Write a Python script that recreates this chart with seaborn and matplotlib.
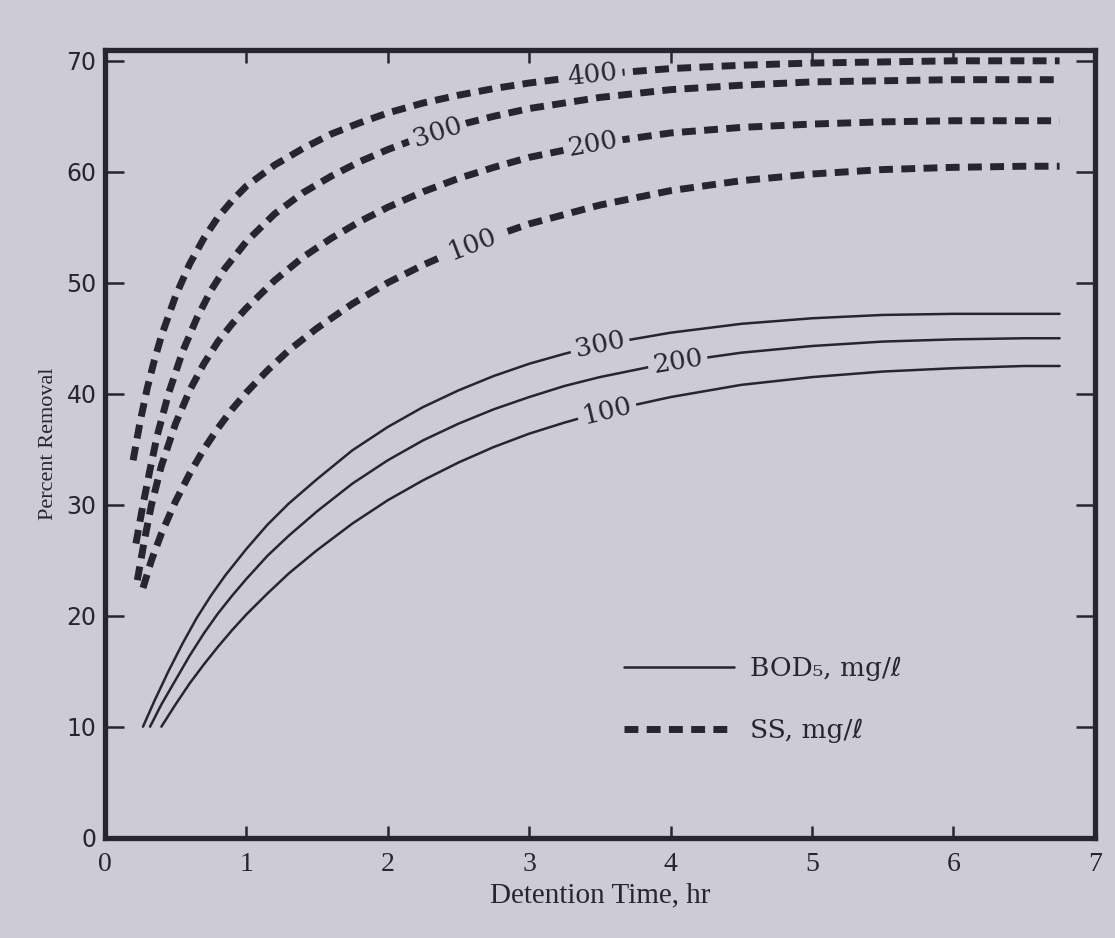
import numpy as np
import pandas as pd
import matplotlib
matplotlib.use("Agg")
import matplotlib.pyplot as plt
import seaborn as sns
from matplotlib.lines import Line2D

# ---- data ----
bod300_x = [0.27, 0.35, 0.45, 0.55, 0.65, 0.75, 0.85, 1.0, 1.15, 1.3, 1.5, 1.75, 2.0, 2.25,
            2.5, 2.75, 3.0, 3.25, 3.5, 4, 4.5, 5, 5.5, 6, 6.5, 6.75]
bod300_y = [10, 12.3, 15, 17.5, 19.8, 21.8, 23.6, 26, 28.2, 30.1, 32.3, 34.9, 37, 38.8,
            40.3, 41.6, 42.7, 43.6, 44.4, 45.5, 46.3, 46.8, 47.1, 47.2, 47.2, 47.2]
bod200_x = [0.32, 0.4, 0.5, 0.6, 0.7, 0.8, 0.9, 1.0, 1.15, 1.3, 1.5, 1.75, 2, 2.25,
            2.5, 2.75, 3, 3.25, 3.5, 4, 4.5, 5, 5.5, 6, 6.5, 6.75]
bod200_y = [10, 12, 14.2, 16.4, 18.4, 20.2, 21.8, 23.3, 25.4, 27.2, 29.4, 31.9, 34, 35.8,
            37.3, 38.6, 39.7, 40.7, 41.5, 42.8, 43.7, 44.3, 44.7, 44.9, 45, 45]
bod100_x = [0.4, 0.5, 0.6, 0.7, 0.8, 0.9, 1.0, 1.15, 1.3, 1.5, 1.75, 2, 2.25, 2.5,
            2.75, 3, 3.25, 3.5, 4, 4.5, 5, 5.5, 6, 6.5, 6.75]
bod100_y = [10, 12, 13.9, 15.6, 17.2, 18.7, 20.1, 22, 23.8, 25.9, 28.3, 30.4, 32.2, 33.8,
            35.2, 36.4, 37.4, 38.3, 39.7, 40.8, 41.5, 42, 42.3, 42.5, 42.5]

ss400_x = [0.2, 0.25, 0.3, 0.35, 0.4, 0.5, 0.6, 0.7, 0.8, 0.9, 1.0, 1.2, 1.4, 1.6, 1.8,
           2.0, 2.25, 2.5, 2.75, 3, 3.5, 4, 4.5, 5, 5.5, 6, 6.5, 6.75]
ss400_y = [34, 37.5, 40.5, 43, 45.2, 48.8, 51.7, 54, 55.9, 57.4, 58.7, 60.6, 62.1, 63.4, 64.4,
           65.3, 66.2, 66.9, 67.5, 68, 68.8, 69.3, 69.6, 69.8, 69.9, 70, 70, 70]
ss300_x = [0.22, 0.27, 0.32, 0.37, 0.45, 0.55, 0.65, 0.75, 0.85, 1.0, 1.2, 1.4, 1.6, 1.8,
           2.0, 2.25, 2.5, 2.75, 3, 3.5, 4, 4.5, 5, 5.5, 6, 6.5, 6.75]
ss300_y = [26.5, 30, 33.2, 36.2, 40, 43.8, 46.8, 49.3, 51.3, 53.7, 56.2, 58.1, 59.6, 60.9,
           62, 63.2, 64.2, 65, 65.7, 66.7, 67.4, 67.8, 68.1, 68.2, 68.3, 68.3, 68.3]
ss200_x = [0.23, 0.28, 0.33, 0.4, 0.5, 0.6, 0.7, 0.8, 0.9, 1.0, 1.2, 1.4, 1.6, 1.8,
           2.0, 2.25, 2.5, 2.75, 3, 3.5, 4, 4.5, 5, 5.5, 6, 6.5, 6.75]
ss200_y = [23.2, 26.8, 30, 33.5, 37.3, 40.3, 42.7, 44.7, 46.3, 47.7, 50.2, 52.3, 54, 55.5,
           56.8, 58.2, 59.4, 60.4, 61.3, 62.6, 63.5, 64, 64.3, 64.5, 64.6, 64.6, 64.6]
ss100_x = [0.27, 0.33, 0.4, 0.5, 0.6, 0.7, 0.8, 0.9, 1.0, 1.15, 1.3, 1.5, 1.75, 2.0,
           2.25, 2.5, 2.75, 3, 3.5, 4, 4.5, 5, 5.5, 6, 6.5, 6.75]
ss100_y = [22.5, 25, 27.4, 30.3, 32.8, 35, 36.9, 38.6, 40.1, 42.1, 43.9, 45.9, 48.1, 50,
           51.6, 53, 54.2, 55.3, 57, 58.3, 59.2, 59.8, 60.2, 60.4, 60.5, 60.5]

curve_labels = ["400", "300", "200", "100", "300", "200", "100"]
label_x = [3.45, 2.35, 3.45, 2.6, 3.5, 4.05, 3.55]

x_ticks = [0, 1, 2, 3, 4, 5, 6, 7]
y_ticks = [0, 10, 20, 30, 40, 50, 60, 70]
legend_labels = ["BOD₅, mg/ℓ", "SS, mg/ℓ"]

# ---- style ----
BG = "#cdccd6"
INK = "#27252f"
sns.set_theme(style="white")
plt.rcParams["font.family"] = ["DejaVu Serif", "DejaVu Sans"]

fig = plt.figure(figsize=(11.15, 9.38), dpi=100, facecolor=BG)
ax = fig.add_axes([0.094, 0.107, 0.888, 0.84])
ax.set_facecolor(BG)

series = [
    ("SS", ss400_x, ss400_y),
    ("SS", ss300_x, ss300_y),
    ("SS", ss200_x, ss200_y),
    ("SS", ss100_x, ss100_y),
    ("BOD", bod300_x, bod300_y),
    ("BOD", bod200_x, bod200_y),
    ("BOD", bod100_x, bod100_y),
]

SS_LW = 5.0
SS_DASH = (2.0, 1.2)
for kind, xs, ys in series:
    df = pd.DataFrame({"t": xs, "r": ys})
    if kind == "SS":
        sns.lineplot(data=df, x="t", y="r", ax=ax, color=INK, lw=SS_LW,
                     sort=False, estimator=None)
        ln = ax.lines[-1]
        ln.set_dashes(SS_DASH)
        ln.set_dash_capstyle("butt")
    else:
        sns.lineplot(data=df, x="t", y="r", ax=ax, color=INK, lw=1.8,
                     sort=False, estimator=None)

ax.set_xlim(0, 7)
ax.set_ylim(0, 71)

# inline curve labels
for (kind, xs, ys), lab, lx in zip(series, curve_labels, label_x):
    ly = float(np.interp(lx, xs, ys))
    p1 = ax.transData.transform((lx - 0.15, np.interp(lx - 0.15, xs, ys)))
    p2 = ax.transData.transform((lx + 0.15, np.interp(lx + 0.15, xs, ys)))
    ang = np.degrees(np.arctan2(p2[1] - p1[1], p2[0] - p1[0]))
    ax.text(lx, ly, lab, fontsize=19, color=INK, ha="center", va="center",
            rotation=ang, rotation_mode="anchor",
            bbox=dict(facecolor=BG, edgecolor="none", pad=3.5))

ax.set_xticks(x_ticks)
ax.set_yticks(y_ticks)
ax.set_xticklabels([str(v) for v in x_ticks], fontsize=20, family="Liberation Serif")
ax.set_yticklabels([str(v) for v in y_ticks], fontsize=17, family="DejaVu Sans")
ax.tick_params(axis="both", direction="in", colors=INK, width=1.8,
               top=True, right=True, bottom=True, left=True)
ax.tick_params(axis="x", length=9, pad=10)
ax.tick_params(axis="y", length=14, pad=6)

for sp in ax.spines.values():
    sp.set_color(INK)
    sp.set_linewidth(3.8)

ax.set_xlabel("Detention Time, hr", fontsize=21, family="Liberation Serif",
              color=INK, labelpad=4)
ax.set_ylabel("Percent Removal", fontsize=16, family="Liberation Serif",
              color=INK, labelpad=6)

handles = [
    Line2D([0], [0], color=INK, lw=1.8),
    Line2D([0], [0], color=INK, lw=SS_LW, dashes=SS_DASH, dash_capstyle="butt"),
]
leg = ax.legend(handles, legend_labels, loc="lower left",
                bbox_to_anchor=(0.5, 0.09), frameon=False,
                prop={"family": ["DejaVu Serif", "DejaVu Sans"], "size": 19},
                handlelength=4.2, labelspacing=1.4, handletextpad=0.6)
for t in leg.get_texts():
    t.set_color(INK)

fig.savefig("out.png", dpi=100, facecolor=BG)
